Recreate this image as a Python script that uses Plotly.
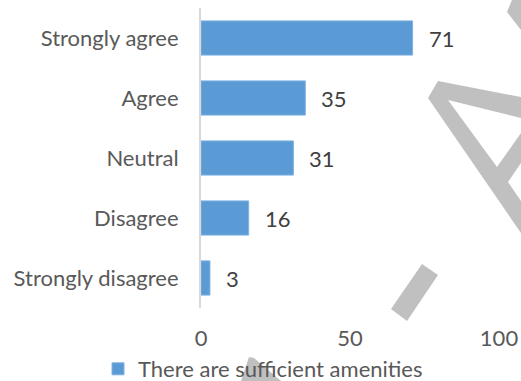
import plotly.graph_objects as go

# Survey responses: "There are sufficient amenities"
categories = ["Strongly agree", "Agree", "Neutral", "Disagree", "Strongly disagree"]
counts = [71, 35, 31, 16, 3]
series_name = "There are sufficient amenities"
x_ticks = [0, 50, 100]

BAR_COLOR = "#5b9bd5"
LABEL_COLOR = "#595959"
VALUE_COLOR = "#404040"
FONT = "Lato"
FS = 22
WATERMARK = "#c0c0c0"

W, H = 521, 381
L, R, T, B = 201, 22, 8, 73

fig = go.Figure()
fig.add_trace(go.Bar(
    x=counts,
    y=categories,
    orientation="h",
    name=series_name,
    marker=dict(color=BAR_COLOR, line=dict(color="#7fb2e2", width=1)),
    width=0.57,
    showlegend=True,
    hoverinfo="x+y",
))

# value labels just past the end of each bar
for cat, val in zip(categories, counts):
    fig.add_annotation(
        x=val, y=cat, text=str(val), showarrow=False,
        xanchor="left", yanchor="middle", xshift=14,
        font=dict(family=FONT, size=FS, color=VALUE_COLOR),
    )

# faint diagonal watermark strokes over the page
def poly(points):
    return "M" + " L".join(f"{x:.4f},{y:.4f}" for x, y in points) + " Z"

watermark_paths = [
    [(507, 12), (512, 0), (521, 0), (521, 30)],
    [(438, 81), (521, 97), (521, 118), (448, 100), (497, 167), (521, 133),
     (521, 163), (508, 182), (521, 201), (521, 233), (428, 98)],
    [(422, 264), (438, 275), (407, 321), (391, 309)],
    [(241, 381), (249, 357), (254, 358), (281, 381)],
]
pw, ph = W - L - R, H - T - B
shapes = []
for pts in watermark_paths:
    conv = [((x - L) / pw, 1 - (y - T) / ph) for x, y in pts]
    shapes.append(dict(
        type="path", xref="paper", yref="paper",
        path=poly(conv), fillcolor=WATERMARK, line=dict(width=0),
        layer="above",
    ))

fig.update_layout(
    width=W, height=H,
    margin=dict(l=L, r=R, t=T, b=B, autoexpand=False),
    paper_bgcolor="white",
    plot_bgcolor="white",
    font=dict(family=FONT, size=FS, color=LABEL_COLOR),
    bargap=0.43,
    shapes=shapes,
    xaxis=dict(
        range=[0, 100], tickvals=x_ticks, ticktext=[str(t) for t in x_ticks],
        showgrid=False, zeroline=False, showline=False, ticks="",
        ticklabelstandoff=15, automargin=False,
        tickfont=dict(family=FONT, size=FS, color=LABEL_COLOR),
        fixedrange=True,
    ),
    yaxis=dict(
        categoryorder="array", categoryarray=categories[::-1],
        showgrid=False, zeroline=False, showline=True,
        linecolor="#d9d9d9", linewidth=2, ticks="",
        ticklabelstandoff=16, automargin=False,
        tickfont=dict(family=FONT, size=FS, color=LABEL_COLOR),
        fixedrange=True,
    ),
    legend=dict(
        orientation="h", xref="container", yref="container",
        x=98 / W, xanchor="left", y=(H - 369) / H, yanchor="middle",
        font=dict(family=FONT, size=FS, color=LABEL_COLOR),
        bgcolor="rgba(0,0,0,0)",
    ),
)

fig.write_html("out.html")
